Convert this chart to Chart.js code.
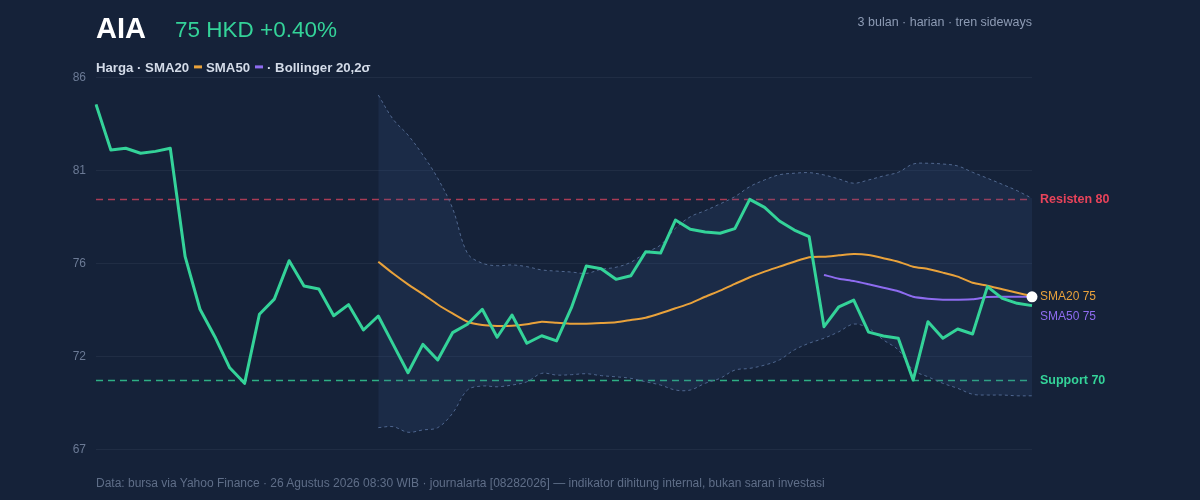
<!DOCTYPE html>
<html><head><meta charset="utf-8">
<script src="https://cdn.jsdelivr.net/npm/chart.js@4/dist/chart.umd.min.js"></script>
<style>
html,body{margin:0;padding:0;background:#152239;}
body{width:1200px;height:500px;position:relative;overflow:hidden;font-family:"Liberation Sans",Arial,Helvetica,sans-serif;}
#wrap{position:absolute;left:0;top:0;width:1200px;height:500px;}
.t{position:absolute;white-space:nowrap;line-height:1;transform:translateY(-50%);}
.sw{display:inline-block;width:8px;height:2.5px;vertical-align:4px;margin:0 4.5px;}
</style></head><body>
<div id="wrap"><canvas id="c" width="1200" height="500"></canvas></div>
<div class="t" style="left:96px;top:27.5px;font-size:29px;font-weight:bold;color:#ffffff">AIA</div>
<div class="t" style="left:175px;top:30px;font-size:22.5px;color:#34d399">75 HKD +0.40%</div>
<div class="t" style="right:168px;top:22px;font-size:12.5px;color:#8d9bb4">3 bulan · harian · tren sideways</div>
<div class="t" style="left:96px;top:67.5px;font-size:13.2px;font-weight:bold;color:#d3dbe8">Harga · SMA20<i class="sw" style="background:#e9a23b"></i>SMA50<i class="sw" style="background:#8e6cf0"></i>· Bollinger 20,2σ</div>
<div class="t" style="left:96px;top:483px;font-size:12px;color:#5f6e88">Data: bursa via Yahoo Finance · 26 Agustus 2026 08:30 WIB · journalarta [08282026] — indikator dihitung internal, bukan saran investasi</div>
<div class="t" id="lblRes" style="left:1040px;font-size:12.5px;font-weight:bold;color:#e8435a">Resisten 80</div>
<div class="t" id="lblS20" style="left:1040px;font-size:12px;color:#e9a23b">SMA20 75</div>
<div class="t" id="lblS50" style="left:1040px;font-size:12px;color:#8e6cf0">SMA50 75</div>
<div class="t" id="lblSup" style="left:1040px;font-size:12.5px;font-weight:bold;color:#34d399">Support 70</div>
<script>
const DAYS = ["29 Mei","1 Jun","2 Jun","3 Jun","4 Jun","5 Jun","8 Jun","9 Jun","10 Jun","11 Jun","12 Jun",
"15 Jun","16 Jun","17 Jun","18 Jun","19 Jun","22 Jun","23 Jun","24 Jun","25 Jun","26 Jun",
"29 Jun","30 Jun","1 Jul","2 Jul","3 Jul","6 Jul","7 Jul","8 Jul","9 Jul","10 Jul",
"13 Jul","14 Jul","15 Jul","16 Jul","17 Jul","20 Jul","21 Jul","22 Jul","23 Jul","24 Jul",
"27 Jul","28 Jul","29 Jul","30 Jul","31 Jul","3 Agu","4 Agu","5 Agu","6 Agu","7 Agu",
"10 Agu","11 Agu","12 Agu","13 Agu","14 Agu","17 Agu","18 Agu","19 Agu","20 Agu","21 Agu",
"24 Agu","25 Agu","26 Agu"];

const PRICE = [84.70,82.32,82.41,82.15,82.25,82.41,76.76,74.02,72.59,70.97,
70.16,73.76,74.55,76.55,75.23,75.08,73.68,74.26,72.94,73.67,
72.19,70.71,72.19,71.38,72.80,73.24,74.02,72.56,73.72,72.25,
72.64,72.37,74.10,76.27,76.13,75.58,75.77,77.02,76.95,78.67,
78.19,78.05,77.98,78.22,79.75,79.33,78.62,78.15,77.80,73.11,
74.15,74.50,72.83,72.63,72.51,70.33,73.37,72.51,72.99,72.73,
75.20,74.59,74.33,74.21];

const SMA20 = [null,null,null,null,null,null,null,null,null,null,
null,null,null,null,null,null,null,null,null,
76.50,75.88,75.32,74.81,74.27,73.80,73.37,73.20,73.15,73.16,
73.24,73.37,73.32,73.27,73.27,73.30,73.34,73.46,73.58,73.81,
74.07,74.33,74.67,74.99,75.34,75.69,75.98,76.24,76.50,76.73,
76.76,76.83,76.90,76.85,76.68,76.50,76.24,76.12,75.93,75.72,
75.40,75.25,75.06,74.88,74.71];

const SMA50 = [null,null,null,null,null,null,null,null,null,null,
null,null,null,null,null,null,null,null,null,null,
null,null,null,null,null,null,null,null,null,null,
null,null,null,null,null,null,null,null,null,null,
null,null,null,null,null,null,null,null,null,
75.81,75.61,75.49,75.32,75.14,74.96,74.67,74.57,74.52,74.52,
74.54,74.66,74.67,74.67,74.67];

const BB_UPPER = [null,null,null,null,null,null,null,null,null,null,
null,null,null,null,null,null,null,null,null,
85.19,83.92,83.10,82.06,80.85,79.28,76.94,76.42,76.29,76.33,
76.24,76.07,76.01,75.96,75.89,76.10,76.21,76.47,76.97,77.37,
78.24,78.84,79.16,79.51,79.89,80.41,80.76,81.03,81.11,81.14,
81.02,80.81,80.59,80.76,80.97,81.16,81.59,81.63,81.59,81.49,
81.16,80.85,80.53,80.20,79.80];

const BB_LOWER = [null,null,null,null,null,null,null,null,null,null,
null,null,null,null,null,null,null,null,null,
67.85,67.90,67.61,67.73,67.85,68.60,69.81,70.02,69.98,70.07,
70.24,70.68,70.59,70.61,70.66,70.56,70.50,70.42,70.24,70.07,
69.81,69.81,70.16,70.42,70.85,70.94,71.11,71.38,71.90,72.25,
72.51,72.85,73.25,73.03,72.42,71.90,70.85,70.50,70.16,69.90,
69.59,69.55,69.55,69.51,69.51];

const SUPPORT = 70.33;
const RESISTANCE = 79.75;
const LAST_MARK = 74.67;
const Y_MIN = 66.7, Y_MAX = 86.1;

const overlay = {
  id:'overlay',
  beforeDatasetsDraw(chart){
    const {ctx, chartArea:a, scales:{y}} = chart;
    [[RESISTANCE,'rgba(226,70,95,0.72)'],[SUPPORT,'rgba(52,211,153,0.8)']].forEach(([v,c])=>{
      const py = Math.round(y.getPixelForValue(v))+0.5;
      ctx.save(); ctx.strokeStyle=c; ctx.lineWidth=1.4; ctx.setLineDash([7,5]);
      ctx.beginPath(); ctx.moveTo(a.left,py); ctx.lineTo(a.right,py); ctx.stroke(); ctx.restore();
    });
  },
  afterDatasetsDraw(chart){
    const {ctx, scales:{x,y}} = chart;
    const px = x.getPixelForValue(DAYS.length-1), py = y.getPixelForValue(LAST_MARK);
    ctx.save(); ctx.fillStyle='#ffffff'; ctx.beginPath(); ctx.arc(px,py,5.5,0,Math.PI*2); ctx.fill(); ctx.restore();
  }
};

const chart = new Chart(document.getElementById('c'), {
  type:'line',
  data:{
    labels:DAYS,
    datasets:[
      {label:'Harga',data:PRICE,borderColor:'#34d399',borderWidth:3,pointRadius:0,tension:0,order:0,borderJoinStyle:'round'},
      {label:'SMA20',data:SMA20,borderColor:'#e9a23b',borderWidth:2,pointRadius:0,tension:0.2,order:1},
      {label:'SMA50',data:SMA50,borderColor:'#8e6cf0',borderWidth:2,pointRadius:0,tension:0.2,order:2},
      {label:'BB atas',data:BB_UPPER,borderColor:'#51688f',borderWidth:1,borderDash:[3,3],pointRadius:0,tension:0.35,
        fill:'+1',backgroundColor:'rgba(60,90,140,0.17)',order:3},
      {label:'BB bawah',data:BB_LOWER,borderColor:'#51688f',borderWidth:1,borderDash:[3,3],pointRadius:0,tension:0.35,fill:false,order:4}
    ]
  },
  options:{
    responsive:false,maintainAspectRatio:false,animation:false,
    layout:{padding:{left:0,top:77.5,right:168,bottom:50.3}},
    plugins:{legend:{display:false},tooltip:{enabled:false}},
    scales:{
      x:{display:false,offset:false},
      y:{min:Y_MIN,max:Y_MAX,afterFit(s){s.width=96;},
        border:{display:false},
        grid:{color:'rgba(148,163,184,0.09)',drawTicks:false,lineWidth:1},
        ticks:{count:5,padding:10,color:'#6b7a95',font:{size:12,family:'"Liberation Sans",Arial,sans-serif'},
          callback:v=>Math.round(v)}}
    }
  },
  plugins:[overlay]
});

const ys = chart.scales.y;
const place=(id,v)=>{document.getElementById(id).style.top=ys.getPixelForValue(v)+'px';};
place('lblRes',RESISTANCE);
place('lblSup',SUPPORT);
const yS20 = ys.getPixelForValue(SMA20[SMA20.length-1]);
const yS50 = Math.max(ys.getPixelForValue(SMA50[SMA50.length-1]), yS20+20);
document.getElementById('lblS20').style.top=yS20+'px';
document.getElementById('lblS50').style.top=yS50+'px';
</script>
</body></html>
